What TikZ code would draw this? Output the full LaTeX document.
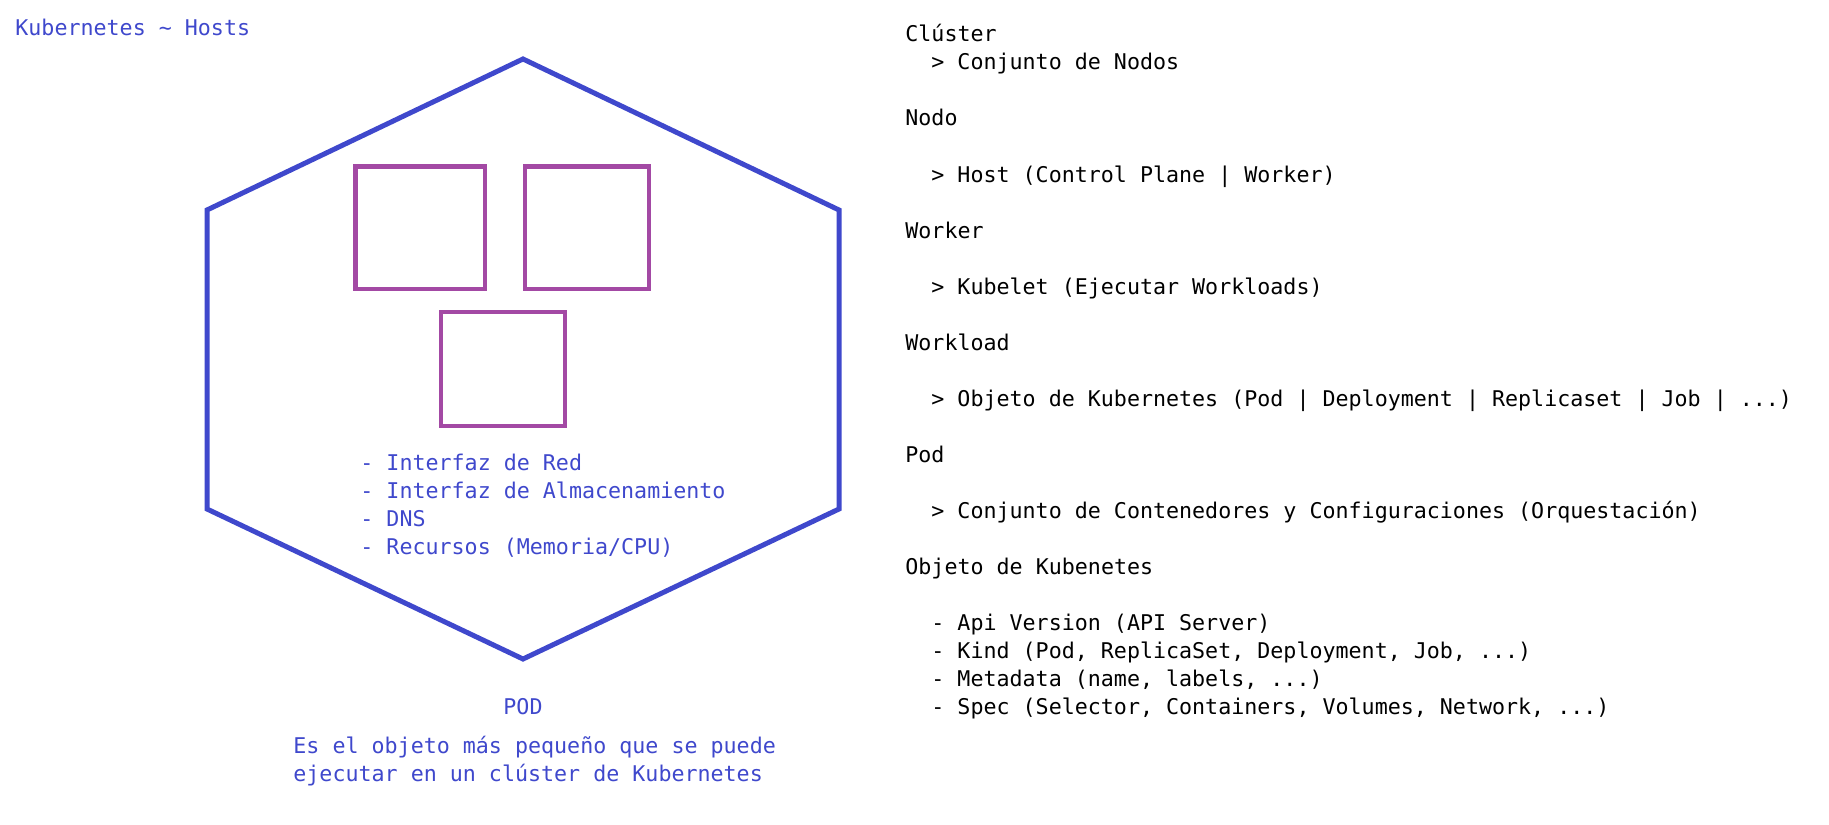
\documentclass[tikz,border=0pt]{standalone}
\usepackage{fontspec}
\newfontfamily\paintfont{DejaVu Sans Mono}
\definecolor{podblue}{HTML}{3F48CC}
\definecolor{boxpurple}{HTML}{A349A4}
\begin{document}
\begin{tikzpicture}[x=0.5pt,y=-0.5pt]
\tikzstyle{every node}+=[inner sep=0pt,font=\paintfont\fontsize{10.83}{14}\selectfont]
\tikzstyle{podtext}=[podblue,anchor=base west]
\tikzstyle{notetext}=[black,anchor=base west]
\tikzstyle{contbox}=[boxpurple,line width=2.35pt]
\useasboundingbox (0,0) rectangle (1829,824);
\draw (15,36) node [podtext] (title) {Kubernetes \textasciitilde{} Hosts};
% pod
\draw [podblue,line width=2.5pt] (523,59) -- (839,210) -- (839,509) -- (523,659) -- (207,509) -- (207,210) -- cycle;
\draw [contbox] (355.5,166.5) rectangle (485,289);
\draw [contbox] (525,166.5) rectangle (649,289);
\draw [contbox] (441,312) rectangle (565,426);
\foreach \i/\txt in {0/Interfaz de Red,1/Interfaz de Almacenamiento,2/DNS,3/{Recursos (Memoria/CPU)}}
  \draw (360,{470+28*\i}) node [podtext] (res\i) {- \txt};
\draw (523,714) node [podblue,anchor=base] (pod) {POD};
\draw (293,753) node [podtext] (desc1) {Es el objeto más pequeño que se puede};
\draw (293,781) node [podtext] (desc2) {ejecutar en un clúster de Kubernetes};
% glosario
\foreach \i/\txt in {0/Clúster,3/Nodo,7/Worker,11/Workload,15/Pod,19/Objeto de Kubenetes}
  \draw (905,{42+28*\i}) node [notetext] (term\i) {\txt};
\foreach \i/\txt in {1/Conjunto de Nodos,5/{Host (Control Plane | Worker)},9/{Kubelet (Ejecutar Workloads)},13/{Objeto de Kubernetes (Pod | Deployment | Replicaset | Job | ...)},17/{Conjunto de Contenedores y Configuraciones (Orquestación)}}
  \draw (931,{42+28*\i}) node [notetext] (def\i) {> \txt};
\foreach \i/\txt in {21/{Api Version (API Server)},22/{Kind (Pod, ReplicaSet, Deployment, Job, ...)},23/{Metadata (name, labels, ...)},24/{Spec (Selector, Containers, Volumes, Network, ...)}}
  \draw (931,{42+28*\i}) node [notetext] (field\i) {- \txt};
\end{tikzpicture}
\end{document}
